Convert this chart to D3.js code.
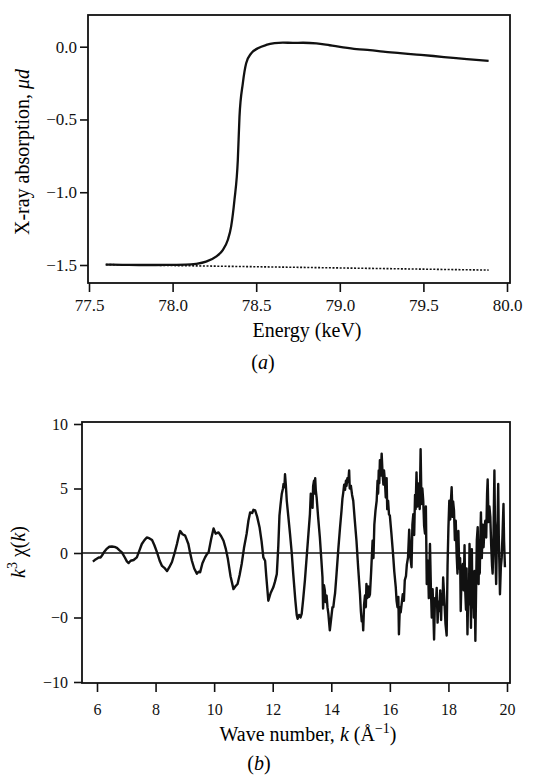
<!DOCTYPE html>
<html>
<head>
<meta charset="utf-8">
<script src="https://cdn.jsdelivr.net/npm/d3@7"></script>
<style>
  body { margin: 0; background: #fff; }
  svg { display: block; }
  svg text { font-family: "Liberation Serif", "DejaVu Serif", "Times New Roman", serif; }
</style>
</head>
<body>
<svg id="chart" width="536" height="781"></svg>
<script>
// Panel (a): absorption edge, energy in keV vs mu*d
const edgeCurve = [
  [77.60, -1.497], [77.70, -1.499], [77.80, -1.500], [77.90, -1.500], [78.00, -1.499],
  [78.08, -1.498], [78.14, -1.492], [78.20, -1.477], [78.26, -1.443], [78.30, -1.397],
  [78.33, -1.328], [78.35, -1.236], [78.37, -1.053], [78.39, -0.78], [78.40, -0.482],
  [78.42, -0.252], [78.44, -0.114], [78.47, -0.046], [78.51, -0.011], [78.56, 0.012],
  [78.61, 0.024], [78.66, 0.028], [78.72, 0.026], [78.78, 0.027], [78.86, 0.023],
  [78.94, 0.010], [79.02, -0.004], [79.10, -0.016], [79.18, -0.024], [79.26, -0.034],
  [79.36, -0.044], [79.46, -0.054], [79.56, -0.064], [79.66, -0.075], [79.76, -0.086],
  [79.89, -0.098]
];
const edgeBaseline = [[77.60, -1.497], [79.89, -1.535]];
const energyTicks = [77.5, 78.0, 78.5, 79.0, 79.5, 80.0];
const absTicks = [0.0, -0.5, -1.0, -1.5];

// Panel (b): k^3 chi(k) vs wave number
const exafs = [
  [5.86,-0.67],[5.95,-0.5],[6.06,-0.34],[6.12,-0.35],[6.17,-0.2],[6.25,0.1],[6.32,0.3],[6.42,0.48],
  [6.51,0.5],[6.60,0.47],[6.68,0.4],[6.77,0.2],[6.85,0.05],[6.95,-0.35],[7.02,-0.65],[7.08,-0.78],
  [7.15,-0.6],[7.25,-0.54],[7.36,-0.34],[7.45,0.2],[7.53,0.7],[7.62,1.0],[7.70,1.2],[7.78,1.15],
  [7.88,1.0],[7.96,0.6],[8.05,0.05],[8.14,-0.6],[8.22,-1.0],[8.30,-1.15],[8.39,-1.4],[8.47,-1.1],
  [8.56,-0.7],[8.65,0.0],[8.73,0.7],[8.80,1.4],[8.84,1.7],[8.92,1.45],[9.01,1.35],[9.07,1.0],
  [9.12,0.7],[9.18,0.0],[9.24,-0.6],[9.32,-1.2],[9.41,-1.6],[9.47,-1.45],[9.52,-1.5],[9.60,-0.8],
  [9.69,-0.34],[9.75,-0.1],[9.81,0.05],[9.90,1.1],[9.98,1.9],[10.05,1.5],[10.15,1.6],[10.24,1.3],
  [10.32,0.95],[10.40,0.3],[10.47,-0.47],[10.56,-1.8],[10.66,-2.8],[10.72,-2.6],[10.80,-2.4],[10.87,-1.7],
  [10.94,-0.85],[11.02,0.4],[11.11,1.5],[11.17,2.5],[11.23,3.15],[11.30,3.1],[11.34,3.35],[11.40,3.3],
  [11.47,2.8],[11.55,2.0],[11.62,0.9],[11.68,-0.34],[11.74,-0.6],[11.78,-1.8],[11.85,-3.7],[11.93,-3.1],
  [12.02,-2.66],[12.08,-2.2],[12.14,-1.63],[12.19,0.5],[12.23,2.9],[12.27,3.8],[12.31,4.6],[12.35,5.0],
  [12.37,5.35],[12.40,5.1],[12.42,6.1],[12.45,5.2],[12.48,4.05],[12.53,2.9],[12.59,1.5],[12.65,0.0],
  [12.70,-1.6],[12.77,-3.6],[12.82,-4.8],[12.85,-5.1],[12.90,-4.8],[12.95,-5.0],[12.99,-4.7],[13.04,-3.6],
  [13.10,-2.1],[13.16,-0.3],[13.22,1.5],[13.27,3.0],[13.30,4.6],[13.33,4.3],[13.36,3.5],[13.38,5.2],
  [13.41,5.6],[13.43,4.6],[13.45,5.8],[13.47,4.9],[13.50,4.3],[13.55,2.8],[13.61,1.2],[13.66,-0.5],
  [13.70,-1.9],[13.72,-4.3],[13.75,-2.5],[13.78,-2.9],[13.80,-3.8],[13.84,-3.3],[13.87,-4.2],[13.90,-4.7],
  [13.95,-6.0],[14.00,-5.0],[14.04,-4.2],[14.07,-4.2],[14.10,-3.6],[14.13,-3.1],[14.18,-1.6],[14.24,0.3],
  [14.30,2.0],[14.35,3.3],[14.38,4.2],[14.41,4.7],[14.44,5.3],[14.47,4.9],[14.50,5.6],[14.52,5.2],
  [14.55,5.8],[14.58,5.5],[14.61,6.4],[14.63,5.0],[14.67,5.2],[14.71,4.5],[14.75,4.05],[14.80,2.6],
  [14.86,0.95],[14.92,-1.2],[14.98,-3.2],[15.01,-4.5],[15.04,-5.3],[15.07,-5.0],[15.09,-6.0],[15.12,-4.0],
  [15.15,-3.3],[15.18,-4.2],[15.20,-2.4],[15.23,-3.5],[15.26,-2.6],[15.29,-3.4],[15.32,-3.2],[15.36,-1.5],
  [15.41,0.95],[15.44,-0.4],[15.47,2.2],[15.51,3.3],[15.55,4.05],[15.58,5.6],[15.60,4.6],[15.62,6.4],
  [15.64,5.4],[15.66,7.2],[15.69,6.0],[15.72,7.7],[15.75,6.2],[15.78,5.3],[15.80,6.4],[15.83,5.6],
  [15.86,4.3],[15.89,5.8],[15.91,3.4],[15.94,4.05],[15.97,3.0],[16.00,2.9],[16.05,1.6],[16.11,-0.1],
  [16.15,-1.4],[16.20,-2.6],[16.23,-3.7],[16.26,-4.2],[16.29,-3.4],[16.31,-6.3],[16.34,-4.2],[16.37,-4.6],
  [16.40,-4.0],[16.44,-3.2],[16.48,-3.7],[16.51,-2.1],[16.55,-1.8],[16.58,-0.9],[16.62,-0.35],[16.66,1.8],
  [16.70,-0.3],[16.74,-1.1],[16.77,2.2],[16.80,3.0],[16.83,1.4],[16.86,4.5],[16.88,3.4],[16.91,6.25],
  [16.94,3.6],[16.97,4.05],[16.99,5.4],[17.02,3.4],[17.05,8.05],[17.08,3.8],[17.11,5.0],[17.14,4.05],
  [17.17,2.1],[17.20,1.5],[17.23,3.6],[17.26,-2.4],[17.30,-0.6],[17.33,-3.5],[17.37,0.7],[17.40,-2.6],
  [17.43,-5.0],[17.46,-2.8],[17.48,-4.2],[17.51,-6.7],[17.54,-3.5],[17.57,-4.1],[17.60,-2.7],[17.63,-5.4],
  [17.66,-3.8],[17.69,-4.5],[17.72,-2.9],[17.75,-5.2],[17.77,-3.2],[17.80,-4.0],[17.82,-1.9],[17.86,-3.6],
  [17.90,-5.5],[17.94,-6.4],[17.97,-1.0],[18.00,2.0],[18.03,4.05],[18.06,2.6],[18.08,3.8],[18.11,5.1],
  [18.14,2.8],[18.16,4.0],[18.19,3.3],[18.22,1.0],[18.25,2.5],[18.28,-0.1],[18.31,-1.6],[18.34,1.7],
  [18.37,-1.2],[18.40,-0.4],[18.42,-4.5],[18.45,-1.5],[18.49,-0.85],[18.52,-2.9],[18.55,0.6],[18.57,-2.7],
  [18.60,-4.4],[18.62,-1.2],[18.65,-6.3],[18.68,-2.5],[18.70,-4.0],[18.72,0.7],[18.75,-3.0],[18.77,-5.8],
  [18.80,0.3],[18.82,-4.2],[18.84,-2.1],[18.87,-5.0],[18.89,-1.4],[18.92,-6.8],[18.95,-2.0],[18.97,1.0],
  [19.00,2.0],[19.03,-2.4],[19.05,0.5],[19.07,-1.6],[19.09,1.2],[19.11,3.15],[19.14,-0.4],[19.17,2.2],
  [19.20,0.45],[19.23,1.9],[19.26,2.5],[19.29,1.2],[19.32,4.6],[19.34,5.7],[19.37,2.4],[19.40,3.6],
  [19.43,2.8],[19.46,0.6],[19.49,-1.0],[19.51,-1.6],[19.54,1.5],[19.57,6.4],[19.59,2.0],[19.61,-0.7],
  [19.63,-2.4],[19.66,1.8],[19.68,2.5],[19.70,5.35],[19.72,1.2],[19.74,-0.8],[19.76,-3.2],[19.79,-1.1],
  [19.82,-0.34],[19.85,1.6],[19.88,3.8],[19.90,0.9],[19.93,-1.1]
];
const kTicks = [6, 8, 10, 12, 14, 16, 18, 20];
const chiTicks = [10, 5, 0, -5, -10];
const chiTickLabels = ["10", "5", "0", "\u22120", "\u221210"]; // as printed in the figure

const ink = "#111";
const serif = "'Liberation Serif', 'DejaVu Serif', 'Times New Roman', serif";
const svg = d3.select("#chart").attr("font-family", serif);

// ---------- panel (a) ----------
const xA = d3.scaleLinear().domain([77.5, 80.0]).range([89, 507]);
const yA = d3.scaleLinear().domain([-1.5, 0.0]).range([265, 46.7]);
const frameA = { left: 88, right: 510, top: 15, bottom: 283 };

const gA = svg.append("g");

gA.append("g")
  .attr("class", "axis-a")
  .attr("transform", `translate(0,${frameA.bottom})`)
  .call(d3.axisBottom(xA).tickValues(energyTicks).tickSize(9).tickPadding(7).tickFormat(d3.format(".1f")))
  .call(g => g.select(".domain").remove());

gA.append("g")
  .attr("class", "axis-a")
  .attr("transform", `translate(${frameA.left},0)`)
  .call(d3.axisLeft(yA).tickValues(absTicks).tickSize(8).tickPadding(3).tickFormat(d3.format(".1f")))
  .call(g => g.select(".domain").remove());

gA.append("path")
  .datum(edgeBaseline)
  .attr("fill", "none")
  .attr("stroke", ink)
  .attr("stroke-width", 1.6)
  .attr("stroke-dasharray", "2,1.6")
  .attr("d", d3.line().x(d => xA(d[0])).y(d => yA(d[1])));

gA.append("path")
  .datum(edgeCurve)
  .attr("fill", "none")
  .attr("stroke", ink)
  .attr("stroke-width", 2.3)
  .attr("stroke-linejoin", "round")
  .attr("d", d3.line().curve(d3.curveMonotoneX).x(d => xA(d[0])).y(d => yA(d[1])));

gA.append("rect")
  .attr("x", frameA.left).attr("y", frameA.top)
  .attr("width", frameA.right - frameA.left).attr("height", frameA.bottom - frameA.top)
  .attr("fill", "none").attr("stroke", ink).attr("stroke-width", 1.8);

gA.append("text")
  .attr("x", 307).attr("y", 337)
  .attr("text-anchor", "middle").attr("font-size", 20)
  .text("Energy (keV)");

const capA = gA.append("text").attr("x", 263).attr("y", 369).attr("text-anchor", "middle").attr("font-size", 20);
capA.append("tspan").text("(");
capA.append("tspan").attr("font-style", "italic").text("a");
capA.append("tspan").text(")");

const yTitleA = gA.append("text")
  .attr("transform", "translate(29,152) rotate(-90)")
  .attr("text-anchor", "middle").attr("font-size", 20);
yTitleA.append("tspan").text("X-ray absorption, ");
yTitleA.append("tspan").attr("font-style", "italic").text("\u03bcd");

// ---------- panel (b) ----------
const xB = d3.scaleLinear().domain([6, 20]).range([97, 507]);
const yB = d3.scaleLinear().domain([-10, 10]).range([682, 424]);
const frameB = { left: 82, right: 510, top: 422, bottom: 683 };

const gB = svg.append("g");

gB.append("g")
  .attr("transform", `translate(0,${frameB.bottom})`)
  .call(d3.axisBottom(xB).tickValues(kTicks).tickSize(9).tickPadding(12).tickFormat(d3.format("d")))
  .call(g => g.select(".domain").remove());

gB.append("g")
  .attr("transform", `translate(${frameB.left},0)`)
  .call(d3.axisLeft(yB).tickValues(chiTicks).tickSize(8).tickPadding(6)
    .tickFormat((d, i) => chiTickLabels[i]))
  .call(g => g.select(".domain").remove());

gB.append("line")
  .attr("x1", frameB.left).attr("x2", frameB.right)
  .attr("y1", yB(0)).attr("y2", yB(0))
  .attr("stroke", ink).attr("stroke-width", 1.6);

gB.append("path")
  .datum(exafs)
  .attr("fill", "none")
  .attr("stroke", ink)
  .attr("stroke-width", 2.4)
  .attr("stroke-linejoin", "round")
  .attr("d", d3.line().x(d => xB(d[0])).y(d => yB(d[1])));

gB.append("rect")
  .attr("x", frameB.left).attr("y", frameB.top)
  .attr("width", frameB.right - frameB.left).attr("height", frameB.bottom - frameB.top)
  .attr("fill", "none").attr("stroke", ink).attr("stroke-width", 1.8);

const xTitleB = gB.append("text")
  .attr("x", 308).attr("y", 741)
  .attr("text-anchor", "middle").attr("font-size", 20);
xTitleB.append("tspan").text("Wave number, ");
xTitleB.append("tspan").attr("font-style", "italic").text("k");
xTitleB.append("tspan").text(" (\u00c5");
xTitleB.append("tspan").attr("font-size", 14).attr("dy", -8).text("\u22121");
xTitleB.append("tspan").attr("dy", 8).text(")");

const capB = gB.append("text").attr("x", 259).attr("y", 770).attr("text-anchor", "middle").attr("font-size", 20);
capB.append("tspan").text("(");
capB.append("tspan").attr("font-style", "italic").text("b");
capB.append("tspan").text(")");

const yTitleB = gB.append("text")
  .attr("transform", "translate(25,552) rotate(-90)")
  .attr("text-anchor", "middle").attr("font-size", 20);
yTitleB.append("tspan").attr("font-style", "italic").text("k");
yTitleB.append("tspan").attr("font-size", 14).attr("dy", -8).text("3");
yTitleB.append("tspan").attr("dy", 8).text(" \u03c7(");
yTitleB.append("tspan").attr("font-style", "italic").text("k");
yTitleB.append("tspan").text(")");

// shared tick styling: serif labels, dark ink
svg.selectAll(".tick").each(function () { d3.select(this.parentNode).attr("font-family", serif).attr("font-size", 16); });
svg.selectAll(".tick text").attr("font-size", 16).attr("fill", ink);
svg.selectAll(".axis-a .tick text").attr("font-size", 17);
svg.selectAll(".tick line").attr("stroke", ink).attr("stroke-width", 1.6);
</script>
</body>
</html>
